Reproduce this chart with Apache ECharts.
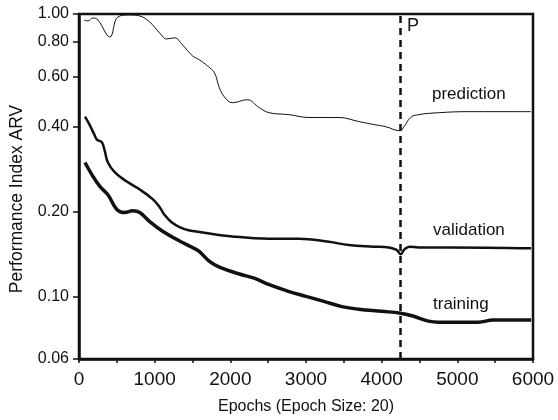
<!DOCTYPE html>
<html><head><meta charset="utf-8">
<script src="https://cdn.jsdelivr.net/npm/echarts@6/dist/echarts.min.js"></script>
<style>html,body{margin:0;padding:0;background:#fff}#c{width:558px;height:420px}</style>
</head><body><div id="c"></div>
<script>
const xTicks = [0,1000,2000,3000,4000,5000,6000];
const yTicks = [0.06,0.10,0.20,0.40,0.60,0.80,1.00];
const stopEpoch = 4250;

const prediction = [
[66,0.952],[118,0.945],[184,0.968],[250,0.952],[408,0.829],[513,0.976],[671,0.992],[803,0.984],
[934,0.937],[1066,0.857],[1158,0.816],[1263,0.823],[1369,0.777],[1500,0.711],[1592,0.688],
[1697,0.655],[1790,0.619],[1855,0.548],[1921,0.509],[2026,0.485],[2224,0.497],[2382,0.466],
[2513,0.447],[2777,0.440],[3040,0.430],[3435,0.430],[3698,0.416],[3895,0.406],[4053,0.399],
[4237,0.386],[4303,0.402],[4382,0.430],[4487,0.440],[4750,0.447],[5145,0.451],[5975,0.451]];

const validation = [
[79,0.433],[132,0.409],[197,0.377],[237,0.359],[303,0.351],[342,0.326],[382,0.298],[474,0.275],
[632,0.255],[803,0.239],[974,0.221],[1066,0.207],[1132,0.194],[1224,0.183],[1329,0.176],
[1461,0.171],[1592,0.169],[2026,0.163],[2513,0.160],[2908,0.160],[3303,0.156],[3566,0.152],
[3895,0.150],[4093,0.149],[4198,0.146],[4250,0.141],[4303,0.147],[4369,0.150],[4487,0.149],
[4882,0.149],[5975,0.148]];

const training = [
[79,0.298],[184,0.266],[276,0.245],[382,0.229],[500,0.203],[605,0.198],[711,0.201],[803,0.198],
[934,0.184],[1105,0.170],[1329,0.157],[1500,0.149],[1592,0.144],[1724,0.133],[1855,0.127],
[2119,0.120],[2316,0.116],[2513,0.110],[2777,0.104],[3000,0.100],[3237,0.096],[3474,0.092],
[3698,0.090],[4000,0.0885],[4250,0.0872],[4422,0.085],[4619,0.0817],[4750,0.081],[5277,0.081],
[5474,0.0824],[5975,0.0824]];

const FONT = '"Liberation Sans", Arial, sans-serif';
const chart = echarts.init(document.getElementById('c'));
const lineBase = {type:'line',smooth:0.4,symbol:'none'};
chart.setOption({
  animation:false,
  backgroundColor:'#fff',
  grid:{left:79,right:25,top:14,bottom:60,show:true,borderColor:'#111',borderWidth:2.5},
  xAxis:{type:'value',min:0,max:6000,interval:1000,
    name:'Epochs (Epoch Size: 20)',nameLocation:'middle',nameGap:40,
    nameTextStyle:{fontFamily:FONT,fontSize:16,color:'#111'},
    axisLine:{lineStyle:{color:'#111',width:2.5}},
    axisTick:{show:true,length:4,lineStyle:{color:'#111',width:1.5}},
    minorTick:{show:true,splitNumber:2,length:4,lineStyle:{color:'#111',width:1.5}},
    axisLabel:{fontFamily:FONT,fontSize:19,color:'#111',margin:11,formatter:v=>String(v)},
    splitLine:{show:false}},
  yAxis:{type:'log',logBase:10,min:0.06,max:1,
    axisLine:{show:true,lineStyle:{color:'#111',width:2.5}},
    axisTick:{show:true,length:6,customValues:yTicks,lineStyle:{color:'#111',width:1.5}},
    axisLabel:{fontFamily:FONT,fontSize:16,color:'#111',margin:10,customValues:yTicks,
      formatter:v=>Number(v).toFixed(2)},
    splitLine:{show:false},minorTick:{show:false}},
  series:[
    Object.assign({name:'prediction',data:prediction,lineStyle:{color:'#111',width:1},
      markLine:{silent:true,symbol:['none','none'],label:{show:false},
        lineStyle:{color:'#111',width:2.5,type:[7,5]},data:[{xAxis:stopEpoch}]}},lineBase),
    Object.assign({name:'validation',data:validation,lineStyle:{color:'#111',width:2.5}},lineBase),
    Object.assign({name:'training',data:training,lineStyle:{color:'#111',width:3.5}},lineBase)
  ],
  graphic:[
    {type:'text',x:17,y:199,rotation:Math.PI/2,
      style:{text:'Performance Index ARV',font:'17.5px '+FONT,fill:'#111',align:'center',verticalAlign:'middle'}},
    {type:'text',left:407,top:17,style:{text:'P',font:'18px '+FONT,fill:'#111'}},
    {type:'text',left:432,top:86,style:{text:'prediction',font:'17px '+FONT,fill:'#111'}},
    {type:'text',left:433,top:222,style:{text:'validation',font:'17px '+FONT,fill:'#111'}},
    {type:'text',left:433,top:296,style:{text:'training',font:'17px '+FONT,fill:'#111'}}
  ]
});
</script></body></html>
